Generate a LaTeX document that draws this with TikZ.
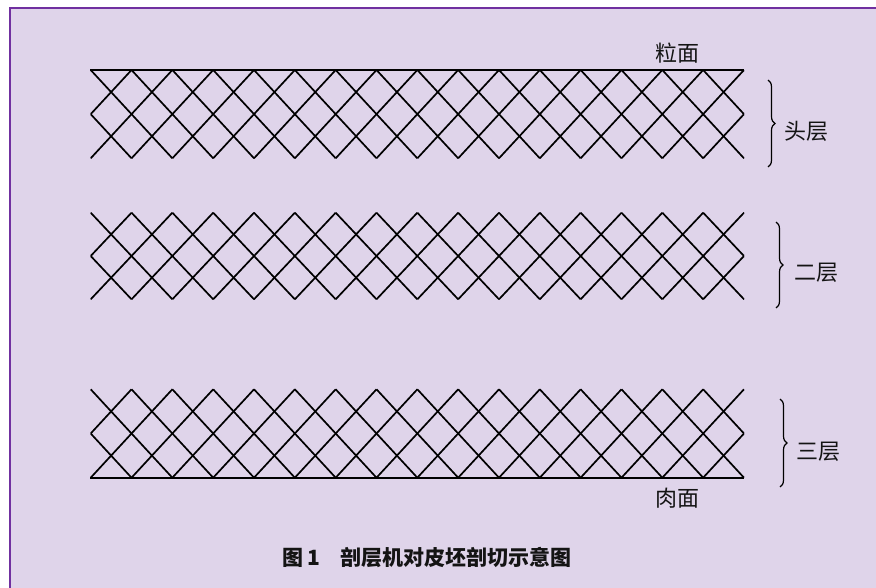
\documentclass[tikz,border=0pt]{standalone}
\usepackage{fontspec}
\newfontfamily\cjk{Noto Sans CJK SC}
\usetikzlibrary{decorations.pathreplacing}
\definecolor{panel}{RGB}{223,212,234}
\definecolor{framepurple}{RGB}{112,48,160}
\definecolor{ink}{RGB}{20,20,20}

% one band of crossed fibres, clipped to the band's rectangle
% #1 = top edge, #2 = bottom edge
\newcommand\fibreband[2]{%
  \begin{scope}
    \clip (90.7,{#1-1}) rectangle (744,{#2+1});
    \foreach \k in {-3,...,19}{
      \draw[fibre] ({90.7+\k*40.83},#1) -- ({90.7+(\k+2)*40.83},#2);
      \draw[fibre] ({90.7+\k*40.83},#1) -- ({90.7+(\k-2)*40.83},#2);
    }
  \end{scope}}

\begin{document}
\begin{tikzpicture}[x=1pt,y=-1pt,
  fibre/.style={line width=1.7pt, black},
  surface/.style={line width=2pt, black},
  lbl/.style={font=\cjk\fontsize{22pt}{24pt}\selectfont, text=ink, inner sep=0pt},
  layerbrace/.style={line width=1.2pt, black, decorate,
    decoration={brace, amplitude=7pt, aspect=0.5}},
  caption/.style={font=\cjk\bfseries\fontsize{21pt}{23pt}\selectfont, text=ink, inner sep=0pt}]

  % page and panel
  \useasboundingbox (0,0) rectangle (876,588);
  \fill[white] (0,0) rectangle (876,588);
  \fill[panel] (10,8) rectangle (876,588);
  \draw[framepurple, line width=2.4pt] (10.2,588) -- (10.2,8.2) -- (876,8.2);

  % three layers of crossed fibres
  \fibreband{70}{158.3}
  \fibreband{212.7}{299.3}
  \fibreband{389.3}{477.7}

  % grain side and flesh side
  \coordinate (grainL) at (90,70);
  \coordinate (grainR) at (744,70);
  \coordinate (fleshL) at (90,477.7);
  \coordinate (fleshR) at (744,477.7);
  \draw[surface] (grainL) -- (grainR);
  \draw[surface] (fleshL) -- (fleshR);

  \node[lbl] (grain) at (677,53) {粒面};
  \node[lbl] (flesh) at (677.5,498) {肉面};

  % layer braces
  \coordinate (b1t) at (768,80);
  \coordinate (b1b) at (768,167);
  \coordinate (b2t) at (776,222);
  \coordinate (b2b) at (776,308);
  \coordinate (b3t) at (780,399);
  \coordinate (b3b) at (780,487);
  \draw[layerbrace] (b1t) -- (b1b);
  \draw[layerbrace] (b2t) -- (b2b);
  \draw[layerbrace] (b3t) -- (b3b);

  \node[lbl, anchor=west] (layer1) at (784,131) {头层};
  \node[lbl, anchor=west] (layer2) at (794,273) {二层};
  \node[lbl, anchor=west] (layer3) at (796,451.5) {三层};

  % caption
  \node[caption] (cap) at (427,557.5) {图\,1\hspace{0.95em}剖层机对皮坯剖切示意图};
\end{tikzpicture}
\end{document}
